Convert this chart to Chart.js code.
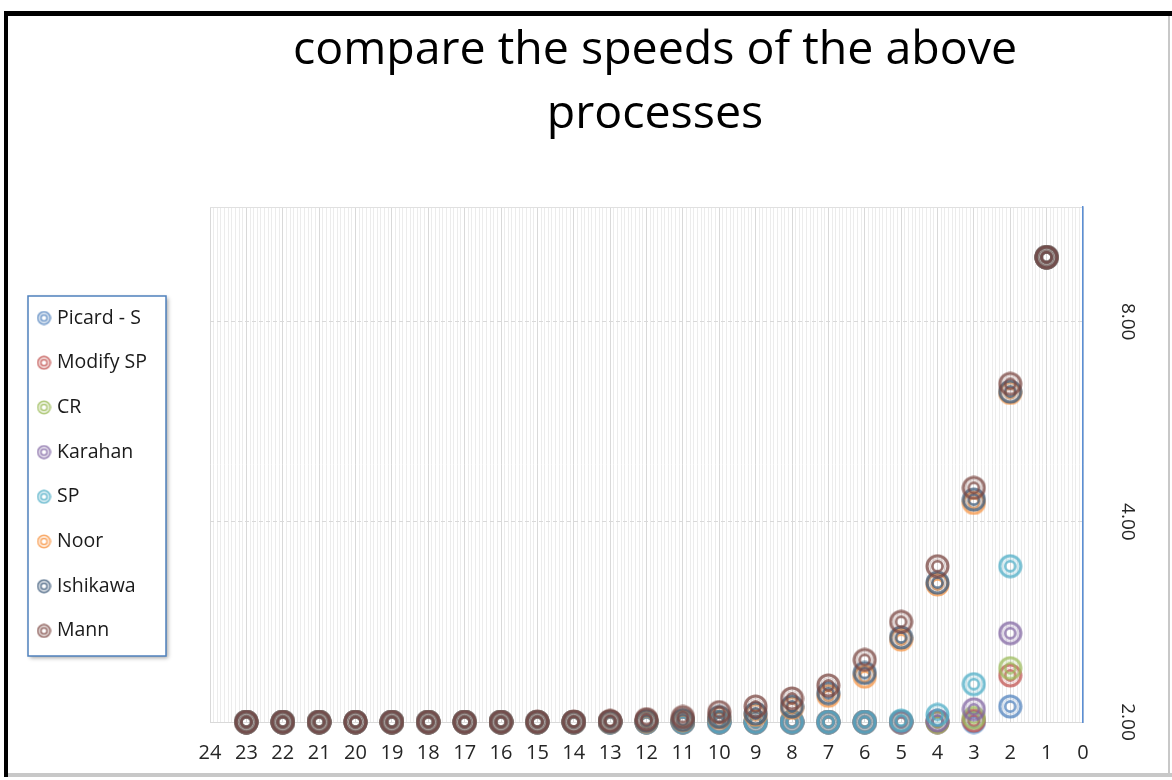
<!DOCTYPE html>
<html>
<head>
<meta charset="utf-8">
<title>compare the speeds of the above processes</title>
<script src="https://cdn.jsdelivr.net/npm/chart.js@4.4.1/dist/chart.umd.min.js"></script>
<style>
  html, body { margin: 0; padding: 0; background: #fff; }
  #wrap { width: 1172px; height: 780px; }
</style>
</head>
<body>
<div id="wrap"><canvas id="speed-chart"></canvas></div>
<script>
// iteration number (x axis runs from 24 down to 0)
const iterations = [1, 2, 3, 4, 5, 6, 7, 8, 9, 10, 11, 12, 13, 14, 15, 16, 17, 18, 19, 20, 21, 22, 23];

const seriesNames = ['Picard - S', 'Modify SP', 'CR', 'Karahan', 'SP', 'Noor', 'Ishikawa', 'Mann'];
const seriesColors = ['#4F81BD', '#C0504D', '#9BBB59', '#8064A2', '#4BACC6', '#F79646', '#3A5878', '#7A4540'];

// values
const picardS  = [10, 2.11, 2.00, 2, 2, 2, 2, 2, 2, 2, 2, 2, 2, 2, 2, 2, 2, 2, 2, 2, 2, 2, 2];
const modifySP = [10, 2.35, 2.01, 2, 2, 2, 2, 2, 2, 2, 2, 2, 2, 2, 2, 2, 2, 2, 2, 2, 2, 2, 2];
const cr       = [10, 2.41, 2.03, 2, 2, 2, 2, 2, 2, 2, 2, 2, 2, 2, 2, 2, 2, 2, 2, 2, 2, 2, 2];
const karahan  = [10, 2.72, 2.09, 2.01, 2, 2, 2, 2, 2, 2, 2, 2, 2, 2, 2, 2, 2, 2, 2, 2, 2, 2, 2];
const sp       = [10, 3.43, 2.28, 2.05, 2.01, 2, 2, 2, 2, 2, 2, 2, 2, 2, 2, 2, 2, 2, 2, 2, 2, 2, 2];
const noor     = [10, 6.25, 4.27, 3.22, 2.66, 2.34, 2.19, 2.10, 2.05, 2.03, 2.012, 2.005, 2.002, 2, 2, 2, 2, 2, 2, 2, 2, 2, 2];
const ishikawa = [10, 6.28, 4.32, 3.24, 2.68, 2.37, 2.21, 2.11, 2.06, 2.035, 2.015, 2.008, 2.003, 2, 2, 2, 2, 2, 2, 2, 2, 2, 2];
const mann     = [10, 6.45, 4.50, 3.43, 2.83, 2.48, 2.27, 2.17, 2.11, 2.07, 2.035, 2.02, 2.008, 2.003, 2.001, 2, 2, 2, 2, 2, 2, 2, 2];

const allSeries = [picardS, modifySP, cr, karahan, sp, noor, ishikawa, mann];

const yTickValues = [2, 4, 8];
const titleLines = ['compare the speeds of the above', 'processes'];

const FONT = '"Open Sans", "DejaVu Sans", sans-serif';

// double ring marker like the Excel one
function ringMarker(color, size, big) {
    const c = document.createElement('canvas');
    c.width = size;
    c.height = size;
    const g = c.getContext('2d');
    const m = size / 2;
    g.strokeStyle = color;
    g.globalAlpha = big ? 0.75 : 0.8;
    g.lineWidth = big ? 3.1 : 1.6;
    g.beginPath();
    g.arc(m, m, m - g.lineWidth / 2 - 0.5, 0, Math.PI * 2);
    g.stroke();
    g.globalAlpha = 0.3;
    g.lineWidth = 1;
    g.beginPath();
    g.arc(m, m, m * 0.62, 0, Math.PI * 2);
    g.stroke();
    g.globalAlpha = big ? 0.75 : 0.8;
    g.lineWidth = big ? 2.7 : 1.5;
    g.beginPath();
    g.arc(m, m, m * 0.41, 0, Math.PI * 2);
    g.stroke();
    return c;
}

const chartMarkers = seriesColors.map(c => ringMarker(c, 25, true));
const legendMarkers = seriesColors.map(c => ringMarker(c, 15, false));

// background, frame, title and the boxed legend
const decorations = {
    id: 'decorations',
    beforeDraw(chart) {
        const ctx = chart.ctx;
        ctx.save();
        ctx.fillStyle = '#ffffff';
        ctx.fillRect(0, 0, chart.width, chart.height);
        ctx.restore();
    },
    afterDraw(chart) {
        const ctx = chart.ctx;
        ctx.save();

        // outer frame
        ctx.fillStyle = '#c8c8c8';
        ctx.fillRect(4, 773, 1168, 4);
        ctx.fillRect(1168, 11, 2, 766);
        ctx.fillStyle = '#000000';
        ctx.fillRect(4, 11, 1168, 5);
        ctx.fillRect(4, 11, 4, 766);

        // title
        ctx.fillStyle = '#000000';
        ctx.font = '46.5px ' + FONT;
        ctx.textAlign = 'center';
        ctx.textBaseline = 'middle';
        ctx.fillText(titleLines[0], 655, 51);
        ctx.fillText(titleLines[1], 655, 115);

        // legend box
        const bx = 28, by = 296, bw = 138, bh = 360;
        ctx.shadowColor = 'rgba(0,0,0,0.35)';
        ctx.shadowBlur = 4;
        ctx.shadowOffsetX = 2;
        ctx.shadowOffsetY = 2;
        ctx.fillStyle = '#ffffff';
        ctx.fillRect(bx, by, bw, bh);
        ctx.shadowColor = 'transparent';
        ctx.strokeStyle = '#4F81BD';
        ctx.lineWidth = 1.5;
        ctx.strokeRect(bx, by, bw, bh);

        ctx.font = '19.5px ' + FONT;
        ctx.textAlign = 'left';
        ctx.textBaseline = 'middle';
        ctx.fillStyle = '#1a1a1a';
        chart.data.datasets.forEach((ds, i) => {
            const y = 318 + i * 44.7;
            ctx.drawImage(legendMarkers[i], 44 - 7.5, y - 7.5);
            ctx.fillText(ds.label, 57, y);
        });

        ctx.restore();
    }
};

new Chart(document.querySelector('#speed-chart').getContext('2d'), {
    type: 'scatter',
    data: {
        datasets: seriesNames.map((name, i) => ({
            label: name,
            data: iterations.map((it, j) => ({ x: it, y: allSeries[i][j] })),
            pointStyle: chartMarkers[i],
            pointRadius: 13,
            pointHoverRadius: 13,
            borderColor: seriesColors[i],
            backgroundColor: seriesColors[i],
            showLine: false,
            clip: false,
            order: seriesNames.length - i
        }))
    },
    options: {
        responsive: true,
        maintainAspectRatio: false,
        animation: false,
        layout: {
            padding: { left: 210, top: 207, right: 29, bottom: 15 }
        },
        plugins: {
            legend: { display: false },
            title: { display: false },
            tooltip: { enabled: false }
        },
        scales: {
            xMinor: {
                type: 'linear',
                axis: 'x',
                position: 'bottom',
                min: 0,
                max: 24,
                reverse: true,
                ticks: { display: false, stepSize: 0.1 },
                grid: { color: '#ececec', lineWidth: 1, drawTicks: false, z: -2 },
                border: { display: false },
                afterFit: s => { s.height = 0; }
            },
            xTop: {
                type: 'linear',
                axis: 'x',
                position: 'top',
                min: 0,
                max: 24,
                reverse: true,
                ticks: { display: false },
                grid: { display: false },
                border: { color: '#e0e0e0' },
                afterFit: s => { s.height = 0; }
            },
            x: {
                type: 'linear',
                position: 'bottom',
                min: 0,
                max: 24,
                reverse: true,
                afterFit: s => { s.height = 43; },
                ticks: {
                    stepSize: 1,
                    autoSkip: false,
                    maxRotation: 0,
                    padding: 19,
                    color: '#262626',
                    font: { family: FONT, size: 20 }
                },
                grid: { color: '#d9d9d9', lineWidth: 1, drawTicks: false },
                border: { color: '#d9d9d9' }
            },
            y: {
                type: 'logarithmic',
                position: 'right',
                min: 2,
                max: 11.9,
                afterBuildTicks: s => { s.ticks = yTickValues.map(v => ({ value: v })); },
                afterFit: s => { s.width = 60; },
                ticks: {
                    minRotation: -90,
                    maxRotation: -90,
                    crossAlign: 'center',
                    padding: 26,
                    color: '#262626',
                    font: { family: FONT, size: 19 },
                    callback: v => Number(v).toFixed(2)
                },
                grid: { color: '#d9d9d9', lineWidth: 1, drawTicks: false },
                border: { color: '#5B8FD6', width: 1.5, dash: [4, 3] }
            }
        }
    },
    plugins: [decorations]
});
</script>
</body>
</html>
